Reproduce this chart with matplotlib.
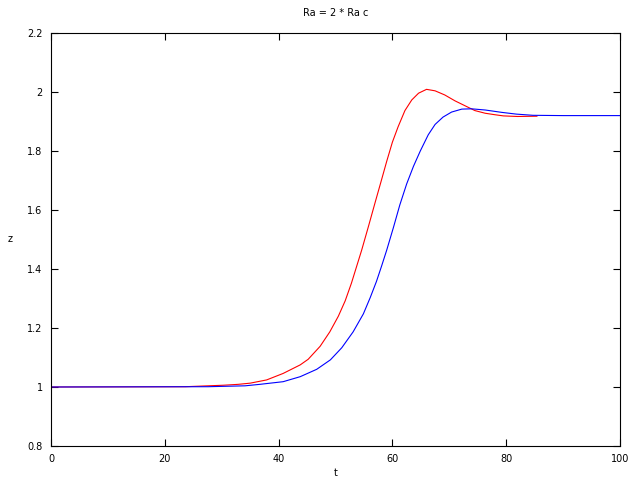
import matplotlib
matplotlib.use("Agg")
import matplotlib.pyplot as plt
from matplotlib.ticker import MultipleLocator, FuncFormatter

red_t = [0, 23.6, 30.3, 32.9, 35.0, 37.9, 40.8, 43.8, 45.2, 47.3, 49.0, 50.5, 51.7, 52.8,
         53.7, 54.6, 55.8, 57.0, 58.1, 59.0, 60.0, 61.0, 62.2, 63.4, 64.6, 66.0, 67.5,
         69.2, 71.0, 72.8, 74.5, 76.3, 78.0, 79.5, 82.0, 85.4]
red_z = [1.0, 1.001, 1.006, 1.009, 1.013, 1.024, 1.046, 1.075, 1.094, 1.138, 1.187, 1.240, 1.292, 1.352,
         1.408, 1.464, 1.545, 1.628, 1.703, 1.765, 1.830, 1.882, 1.937, 1.973, 1.996, 2.009, 2.004,
         1.990, 1.970, 1.953, 1.937, 1.928, 1.923, 1.919, 1.917, 1.918]

blue_t = [0, 27.6, 34.1, 36.7, 40.8, 43.8, 46.7, 49.1, 51.1, 53.1, 54.9, 56.1, 57.2, 58.1,
          59.0, 60.2, 61.3, 62.5, 63.7, 64.9, 66.3, 67.5, 68.9, 70.4, 72.2, 73.9, 76.3,
          79.2, 81.8, 84.7, 90.0, 100.0]
blue_z = [1.0, 1.001, 1.004, 1.009, 1.018, 1.035, 1.060, 1.092, 1.133, 1.187, 1.248, 1.303, 1.358, 1.410,
          1.464, 1.542, 1.617, 1.688, 1.748, 1.800, 1.855, 1.890, 1.915, 1.932, 1.942, 1.943, 1.939,
          1.931, 1.925, 1.921, 1.920, 1.920]

title = "Ra = 2 * Ra c"

fig = plt.figure(figsize=(6.4, 4.8), dpi=100)
ax = fig.add_axes([51/640, 1-446/480, (620-51)/640, (446-33)/480])
ax.plot(red_t, red_z, color="#ff0000", lw=0.8)
ax.plot(blue_t, blue_z, color="#0000ff", lw=0.8)
ax.set_xlim(0, 100)
ax.set_ylim(0.8, 2.2)
ax.xaxis.set_major_locator(MultipleLocator(20))
ax.yaxis.set_major_locator(MultipleLocator(0.2))
ax.yaxis.set_major_formatter(FuncFormatter(lambda v, p: f"{v:.1f}".rstrip("0").rstrip(".")))
ax.tick_params(direction="in", top=True, right=True, length=5, width=0.8, labelsize=7, pad=6)
for s in ax.spines.values():
    s.set_linewidth(0.8)
ax.set_title(title, fontsize=7, pad=12)
ax.set_xlabel("t", fontsize=7, labelpad=3)
ax.set_ylabel("z", fontsize=7, rotation=0, labelpad=12, va="center")
fig.savefig("out.png", dpi=100)
